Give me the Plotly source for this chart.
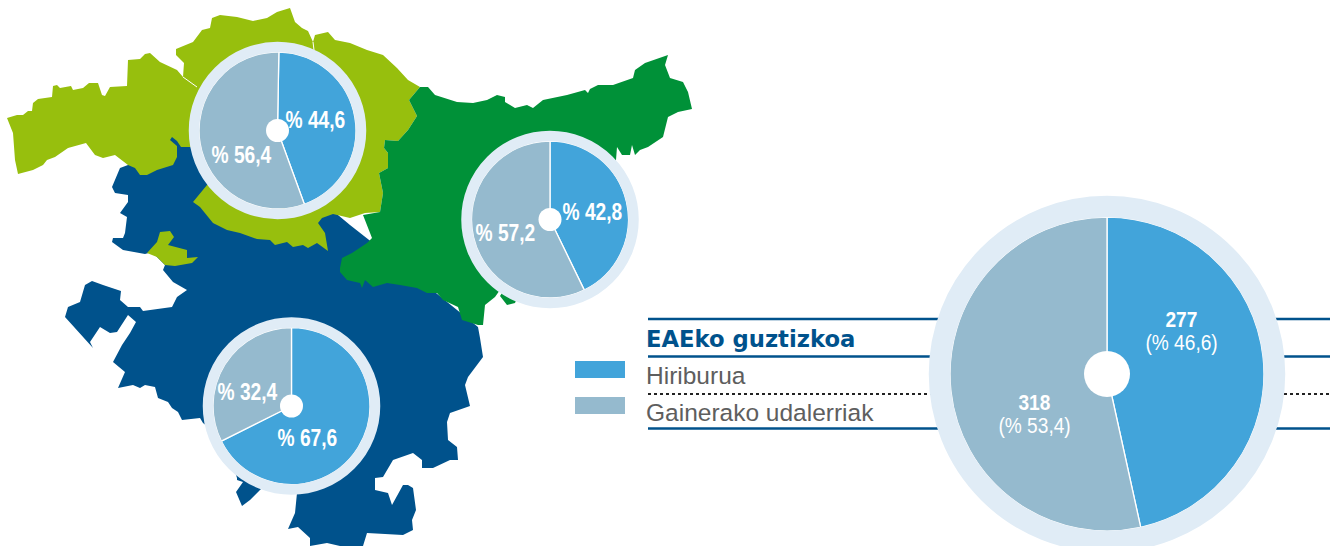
import plotly.graph_objects as go

W, H = 1338, 546
BLUE = "#42A4DA"; GREY = "#95BACE"; RING = "#E0ECF6"
NAVY = "#00528C"; LIME = "#97BF0D"; GREEN = "#009138"; TXT = "#5E5E5E"

# --- data ---
series_names = ["Hiriburua", "Gainerako udalerriak"]
bizkaia_values = [44.6, 56.4]
gipuzkoa_values = [42.8, 57.2]
araba_values = [67.6, 32.4]
total_counts = [277, 318]
total_shares = ["46,6", "53,4"]
title_text = "EAEko guztizkoa"

# --- map outlines (background artwork, in picture pixels) ---
lime_outline = [(7,118),(17,115),(23,115),(28,111),(32,111),(33,103),(38,99),(52,97),(53,86),(57,85),(60,88),(71,86),
 (73,90),(83,88),(89,83),(98,83),(102,95),(105,96),(110,87),(127,86),(128,60),(140,59),(145,54),(150,53),(160,62),
 (177,70),(183,77),(184,63),(176,55),(176,49),(193,42),(202,30),(210,28),(212,18),(220,15),(227,16),(237,17),(253,21),
 (267,18),(277,12),(290,8),(295,22),(302,28),(308,31),(313,42),(315,35),(328,32),(335,40),(350,43),(367,50),(383,55),
 (397,68),(408,80),(420,87),(409,100),(417,116),(408,130),(398,141),(385,140),(384,148),(388,153),(388,168),(379,173),
 (383,193),(380,212),(365,213),(350,218),(333,214),(322,218),(318,223),(325,233),(328,251),(317,243),(308,248),(303,245),
 (293,247),(287,242),(275,245),(270,240),(257,239),(240,233),(227,230),(213,223),(200,207),(193,202),(207,185),(277,131),
 (190,147),(181,147),(177,141),(172,137),(170,140),(177,146),(177,157),(173,165),(157,170),(147,175),(140,175),(135,168),
 (128,165),(118,157),(115,155),(103,158),(95,155),(86,143),(78,145),(68,148),(55,157),(47,160),(43,165),(33,170),(18,174),
 (15,160),(13,133)]
lime_island = [(147,253),(157,242),(160,232),(170,231),(174,237),(168,245),(187,250),(187,258),(198,257),(192,263),
 (175,266),(165,265),(157,257)]
green_outline = [(420,87),(428,87),(435,95),(447,99),(457,102),(473,103),(487,100),(497,95),(505,97),(505,102),(515,108),
 (527,105),(533,108),(543,100),(567,95),(585,90),(588,93),(590,89),(598,85),(613,85),(633,78),(635,70),(645,63),(668,55),
 (665,65),(670,78),(683,82),(688,92),(692,109),(678,112),(668,117),(663,137),(648,147),(640,150),(635,155),(632,145),
 (630,155),(622,155),(617,147),(616,160),(550,219),(500,296),(507,305),(515,303),(550,219),(495,297),(485,305),(483,325),
 (478,325),(462,320),(458,307),(443,300),(437,293),(427,293),(417,288),(400,285),(387,283),(373,287),(365,280),(362,288),
 (360,283),(347,280),(340,272),(340,268),(342,258),(352,253),(367,243),(372,238),(363,215),(380,212),(383,193),(379,173),
 (388,168),(388,153),(384,148),(385,140),(398,141),(408,130),(417,116),(409,100)]
navy_outline = [(128,165),(120,168),(112,187),(115,193),(128,195),(128,202),(120,213),(127,217),(125,233),(123,238),(113,238),
 (112,242),(123,250),(145,254),(152,252),(165,265),(163,270),(173,282),(187,290),(177,297),(172,307),(143,311),(140,307),
 (128,307),(120,300),(121,291),(103,285),(92,281),(85,285),(80,302),(68,307),(65,317),(93,348),(90,342),(100,327),(110,333),
 (117,332),(128,315),(136,322),(130,333),(122,345),(113,362),(125,372),(118,388),(133,385),(140,388),(145,385),(155,387),
 (158,398),(168,402),(172,408),(178,412),(182,420),(200,418),(203,423),(225,440),(237,478),(237,480),(243,482),(236,492),
 (242,506),(250,500),(260,490),(270,480),(297,480),(297,493),(295,513),(288,529),(298,527),(310,538),(310,546),(327,543),
 (340,546),(363,546),(367,533),(403,535),(413,530),(412,520),(416,510),(413,488),(408,485),(403,485),(392,505),(388,493),
 (375,490),(375,478),(383,477),(393,460),(413,453),(422,460),(422,468),(433,468),(450,460),(458,460),(457,447),(448,440),
 (447,422),(450,413),(470,406),(465,385),(468,377),(483,357),(480,338),(478,327),(420,280),(350,225),(320,200),(250,150),
 (190,140),(165,130),(150,165)]
lime_seams = [((183,77),(197,87)), ((313,42),(314,50))]

fig = go.Figure()
for outline, colour in [(navy_outline, NAVY), (lime_outline, LIME), (lime_island, LIME), (green_outline, GREEN)]:
    xs, ys = zip(*(outline + outline[:1]))
    fig.add_trace(go.Scatter(x=xs, y=ys, mode="lines", fill="toself", fillcolor=colour,
                             line=dict(width=0, color=colour), hoverinfo="skip", showlegend=False))

def dx(c, r): return [(c - r) / W, (c + r) / W]
def dy(c, r): return [1 - (c + r) / H, 1 - (c - r) / H]

shapes = []
for (a, b) in lime_seams:
    shapes.append(dict(type="line", xref="x", yref="y", x0=a[0], y0=a[1], x1=b[0], y1=b[1], layer="above",
                       line=dict(color="white", width=1)))
def circle(cx, cy, r, **kw):
    shapes.append(dict(type="circle", xref="x", yref="y", x0=cx-r, x1=cx+r, y0=cy-r, y1=cy+r, layer="above", **kw))

def donut(cx, cy, r, ring, centre, values, rotation=0):
    fig.add_trace(go.Pie(labels=series_names, values=values, sort=False, direction="clockwise", rotation=rotation,
                         domain=dict(x=dx(cx, r), y=dy(cy, r)), textinfo="none", hoverinfo="label+value",
                         marker=dict(colors=[BLUE, GREY], line=dict(color="white", width=1.3)), showlegend=False))
    circle(cx, cy, r + ring / 2, line=dict(color=RING, width=ring + 0.5), fillcolor="rgba(0,0,0,0)")
    circle(cx, cy, centre, line=dict(width=0), fillcolor="white")

donut(277.5, 130.5, 78.5, 10, 11.5, bizkaia_values, rotation=1)
donut(550, 219.5, 78.5, 10, 11.5, gipuzkoa_values)
donut(291.5, 406, 78.5, 10, 11.5, araba_values)
donut(1107, 374, 157, 21, 23, total_counts)

# horizontal rules behind the big ring
for y, dash in [(319, "solid"), (356.5, "solid"), (394, "dot"), (428.5, "solid")]:
    colour = "#222222" if dash == "dot" else NAVY
    shapes.append(dict(type="line", xref="x", yref="y", x0=648, x1=1330, y0=y, y1=y, layer="below",
                       line=dict(color=colour, width=2 if dash == "dot" else 2.5, dash=dash)))
# legend swatches
for y0, colour in [(361, BLUE), (397, GREY)]:
    shapes.append(dict(type="rect", xref="x", yref="y", x0=575, x1=625, y0=y0, y1=y0+17,
                       fillcolor=colour, line=dict(width=0), layer="below"))

ann = []
def label(x, y, text, size, colour="white", family="Liberation Sans", anchor="center"):
    ann.append(dict(x=x, y=y, xref="x", yref="y", text=text, showarrow=False, xanchor=anchor, yanchor="middle",
                    font=dict(family=family, size=size, color=colour)))
def pct(v): return "<b>% " + str(v).replace(".", ",") + "</b>"

label(315, 119, pct(bizkaia_values[0]), 24)
label(241, 154, pct(bizkaia_values[1]), 24)
label(592, 211, pct(gipuzkoa_values[0]), 24)
label(505, 232, pct(gipuzkoa_values[1]), 24)
label(307, 437, pct(araba_values[0]), 24)
label(247, 391, pct(araba_values[1]), 24)
label(1181, 319, f"<b>{total_counts[0]}</b>", 22)
label(1181, 342, f"(% {total_shares[0]})", 22)
label(1034, 402, f"<b>{total_counts[1]}</b>", 22)
label(1034, 425, f"(% {total_shares[1]})", 22)
label(644, 339, f"<b>{title_text}</b>", 22.7, NAVY, "DejaVu Sans", "left")
label(644, 375, series_names[0], 24.5, TXT, "Liberation Sans", "left")
label(644, 412, series_names[1], 24.5, TXT, "Liberation Sans", "left")

fig.update_layout(width=W, height=H, margin=dict(l=0, r=0, t=0, b=0), autosize=False,
                  paper_bgcolor="white", plot_bgcolor="white", showlegend=False,
                  shapes=shapes, annotations=ann,
                  xaxis=dict(range=[0, W], visible=False, fixedrange=True),
                  yaxis=dict(range=[H, 0], visible=False, fixedrange=True))

# No condensed face is installed: narrow the white labels horizontally, as in the reference.
post = """
document.body.style.margin='0';document.body.style.overflow='hidden';
var gd=document.getElementById('{plot_id}');
function narrow(){
  gd.querySelectorAll('.annotation-text-g text').forEach(function(t){
    if(t.style.fill.indexOf('255, 255, 255')<0) return;
    var s=parseFloat(t.style.fontSize)>23?0.80:0.87;
    t.style.transformBox='fill-box';t.style.transformOrigin='center';t.style.transform='scaleX('+s+')';
  });
}
narrow();gd.on('plotly_afterplot',narrow);
"""
fig.write_html("out.html", config=dict(displayModeBar=False), post_script=post)
